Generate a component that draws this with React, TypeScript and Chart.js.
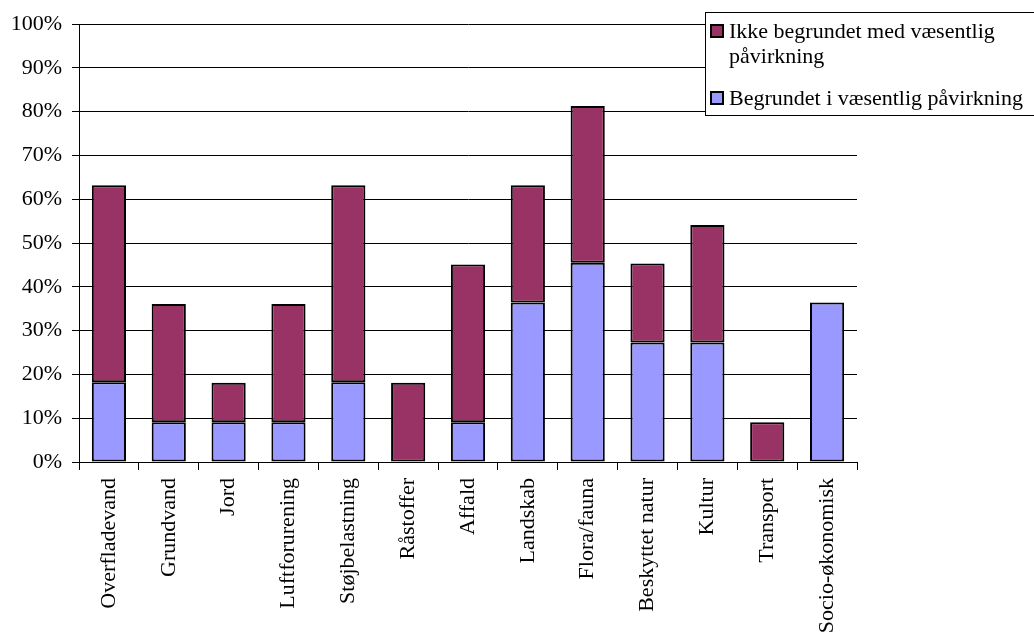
import React, { useEffect, useRef } from "react";
import { Chart, registerables } from "chart.js";

Chart.register(...registerables);

const categories = [
  "Overfladevand",
  "Grundvand",
  "Jord",
  "Luftforurening",
  "Støjbelastning",
  "Råstoffer",
  "Affald",
  "Landskab",
  "Flora/fauna",
  "Beskyttet natur",
  "Kultur",
  "Transport",
  "Socio-økonomisk",
];

const begrundet = [18.2, 9.1, 9.1, 9.1, 18.2, 0, 9.1, 36.4, 45.5, 27.3, 27.3, 0, 36.4];
const ikkeBegrundet = [45.0, 27.0, 9.0, 27.0, 45.0, 18.1, 36.0, 26.8, 35.8, 18.0, 26.8, 9.1, 0];

const seriesNames = ["Begrundet i væsentlig påvirkning", "Ikke begrundet med væsentlig påvirkning"];
const legendLines = [["Ikke begrundet med væsentlig", "påvirkning"], ["Begrundet i væsentlig påvirkning"]];

const BLUE = "#9999FF";
const MAROON = "#993366";
const FONT = "'Liberation Serif', 'Times New Roman', serif";

const legendPlugin = {
  id: "boxLegend",
  afterDraw(chart: any) {
    const ctx = chart.ctx;
    ctx.save();
    ctx.fillStyle = "#fff";
    ctx.fillRect(705, 12, 340, 103);
    ctx.strokeStyle = "#000";
    ctx.lineWidth = 1;
    ctx.strokeRect(705.5, 12.5, 340, 103);
    ctx.font = "22px " + FONT;
    ctx.textBaseline = "alphabetic";
    const entries = [
      { color: MAROON, y: 25, lines: legendLines[0] },
      { color: BLUE, y: 92, lines: legendLines[1] },
    ];
    for (const e of entries) {
      ctx.fillStyle = e.color;
      ctx.fillRect(711, e.y, 12, 12);
      ctx.strokeStyle = "#000";
      ctx.lineWidth = 2;
      ctx.strokeRect(711, e.y, 12, 12);
      ctx.fillStyle = "#000";
      e.lines.forEach((l: string, i: number) => {
        ctx.fillText(l, 729, e.y + 13 + i * 25);
      });
    }
    ctx.restore();
  },
};

export default function App() {
  const ref = useRef<HTMLCanvasElement | null>(null);
  useEffect(() => {
    if (!ref.current) return;
    const chart = new Chart(ref.current, {
      type: "bar",
      data: {
        labels: categories,
        datasets: [
          {
            label: seriesNames[0],
            data: begrundet,
            backgroundColor: BLUE,
            borderColor: "#000",
            borderWidth: 2,
            borderSkipped: false,
            categoryPercentage: 1,
            barPercentage: 0.571,
          },
          {
            label: seriesNames[1],
            data: ikkeBegrundet,
            backgroundColor: MAROON,
            borderColor: "#000",
            borderWidth: 2,
            borderSkipped: false,
            categoryPercentage: 1,
            barPercentage: 0.571,
          },
        ],
      },
      options: {
        animation: false,
        responsive: false,
        layout: { padding: { top: 24, right: 177, left: 0, bottom: 0 } },
        plugins: { legend: { display: false }, tooltip: { enabled: false } },
        scales: {
          x: {
            stacked: true,
            offset: true,
            grid: {
              offset: true,
              drawOnChartArea: false,
              drawTicks: true,
              tickLength: 8,
              color: "#000",
            },
            border: { display: true, color: "#000", width: 1 },
            ticks: {
              maxRotation: 90,
              minRotation: 90,
              autoSkip: false,
              padding: 8,
              color: "#000",
              font: { family: FONT, size: 22 },
            },
            afterFit(scale: any) {
              scale.height = 174;
            },
          },
          y: {
            stacked: true,
            min: 0,
            max: 100,
            ticks: {
              stepSize: 10,
              padding: 10,
              color: "#000",
              font: { family: FONT, size: 22 },
              callback: (v: any) => v + "%",
            },
            grid: { color: "#000", lineWidth: 1, tickLength: 7 },
            border: { display: true, color: "#000", width: 1 },
            afterFit(scale: any) {
              scale.width = 79;
            },
          },
        },
      },
      plugins: [legendPlugin],
    });
    return () => chart.destroy();
  }, []);
  return (
    <div style={{ position: "fixed", left: 0, top: 0, width: 1034, height: 636, background: "#fff" }}>
      <canvas ref={ref} width={1034} height={636} style={{ width: 1034, height: 636 }} />
    </div>
  );
}
